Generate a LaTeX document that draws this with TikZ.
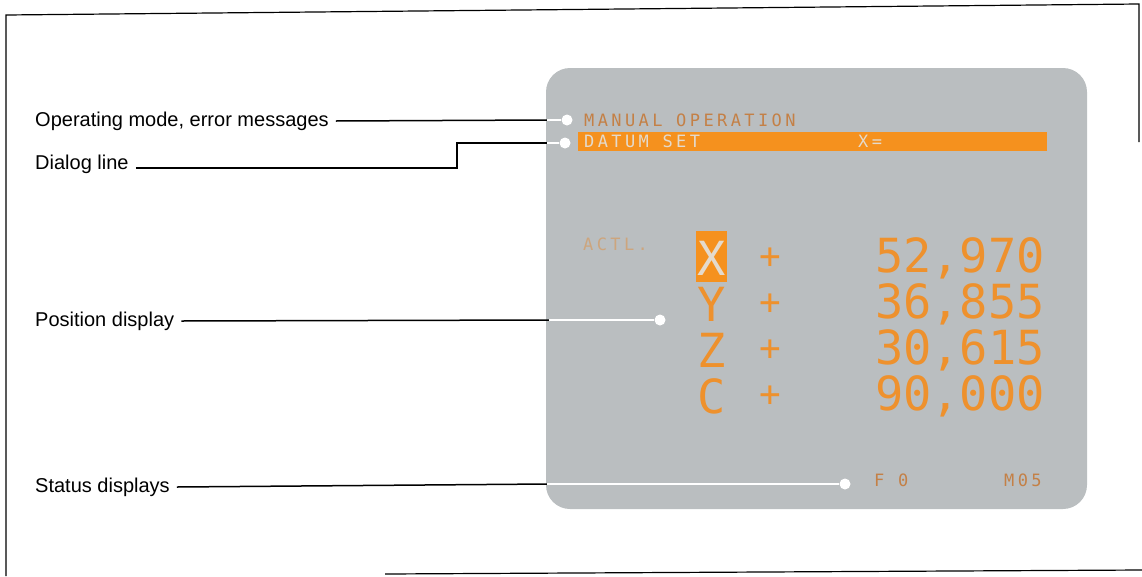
\documentclass[tikz,border=0pt]{standalone}
\usepackage{fontspec}
\setmainfont{Liberation Sans}
\newfontfamily\scrfont[LetterSpace=20]{DejaVu Sans Mono}
\newfontfamily\bigfont{DejaVu Sans Mono}
\definecolor{scrgray}{RGB}{186,190,192}
\definecolor{barorange}{RGB}{245,145,30}
\definecolor{digorange}{RGB}{238,145,45}
\definecolor{smallorange}{RGB}{196,128,70}
\definecolor{lighttext}{RGB}{228,218,204}
\definecolor{actl}{RGB}{205,165,125}
\tikzset{
  frameline/.style={draw=black, line width=1.2pt},
  label/.style={anchor=west, inner sep=0pt, font=\fontsize{20}{24}\selectfont},
  leader/.style={draw=black, line width=1.5pt},
  wleader/.style={draw=white, line width=2pt},
  dotmark/.style={circle, fill=white, inner sep=0pt, minimum size=11pt},
  smalltxt/.style={inner sep=0pt, font=\scrfont\fontsize{17}{20}\selectfont},
  bigtxt/.style={inner sep=0pt, text=digorange, font=\bigfont\fontsize{47}{50}\selectfont},
  plustxt/.style={bigtxt, font=\bigfont\fontsize{36}{40}\selectfont},
}
\begin{document}
\begin{tikzpicture}[x=1pt,y=-1pt]
\useasboundingbox (0,0) rectangle (1142,576);
% frame
\draw[frameline] (6,576) -- (6,15) -- (1139,4) -- (1139,142);
\draw[frameline] (385,574) -- (1142,570);
% screen
\node[fill=scrgray, rounded corners=24pt, minimum width=541pt, minimum height=441pt, inner sep=0pt] (scr) at (816.5,288.5) {};
% dialog bar
\node[fill=barorange, minimum width=469pt, minimum height=19pt, inner sep=0pt] (bar) at (812.5,141) {};
% screen texts
\node[smalltxt, anchor=west, text=smallorange] (mode) at (584,120) {MANUAL OPERATION};
\node[smalltxt, anchor=west, text=lighttext] (datum) at (584,141) {DATUM SET};
\node[smalltxt, anchor=west, text=lighttext] (xeq) at (858,141) {X=};
\node[smalltxt, anchor=west, text=actl] (actl) at (583,244) {ACTL.};
% highlighted X
\node[fill=barorange, minimum width=31pt, minimum height=51pt, inner sep=0pt] (xbox) at (711.5,256) {};
\node[bigtxt, text=lighttext] (ax) at (711.5,258) {X};
\node[bigtxt] (ay) at (711.5,304) {Y};
\node[bigtxt] (az) at (711.5,350) {Z};
\node[bigtxt] (ac) at (711.5,396) {C};
\node[plustxt] (px) at (770,258) {+};
\node[plustxt] (py) at (770,304) {+};
\node[plustxt] (pz) at (770,350) {+};
\node[plustxt] (pc) at (770,396) {+};
\node[bigtxt, anchor=east] (vx) at (1045,258) {52,970};
\node[bigtxt, anchor=east] (vy) at (1045,304) {36,855};
\node[bigtxt, anchor=east] (vz) at (1045,350) {30,615};
\node[bigtxt, anchor=east] (vc) at (1045,396) {90,000};
\node[smalltxt, anchor=west, text=smallorange] (feed) at (874,480) {F 0};
\node[smalltxt, anchor=west, text=smallorange] (mfun) at (1004,480) {M05};
% dots
\node[dotmark] (d1) at (567,120) {};
\node[dotmark] (d2) at (565,143) {};
\node[dotmark] (d3) at (660,320) {};
\node[dotmark] (d4) at (845,484) {};
% labels
\node[label] (l1) at (35,121) {Operating mode, error messages};
\node[label] (l2) at (35,164) {Dialog line};
\node[label] (l3) at (35,321) {Position display};
\node[label] (l4) at (35,487) {Status displays};
% edge points
\coordinate (e1) at (547,120);
\coordinate (b2) at (457,143);
\coordinate (e2) at (547,143);
\coordinate (e3) at (549,320);
\coordinate (e4) at (547,484);
% leaders
\draw[leader] ([xshift=7pt,yshift=-4pt]l2.east) -- ([yshift=-4pt]b2 |- l2.east) -- (b2) -- (e2);
\draw[leader] ([xshift=7pt]l1.east) -- (e1);
\draw[wleader] (e1) -- (d1);
\draw[wleader] (e2) -- (d2);
\draw[leader] ([xshift=7pt]l3.east) -- (e3);
\draw[wleader] (e3) -- (d3);
\draw[leader] ([xshift=7pt]l4.east) -- (e4);
\draw[wleader] (e4) -- (d4);
\end{tikzpicture}
\end{document}
